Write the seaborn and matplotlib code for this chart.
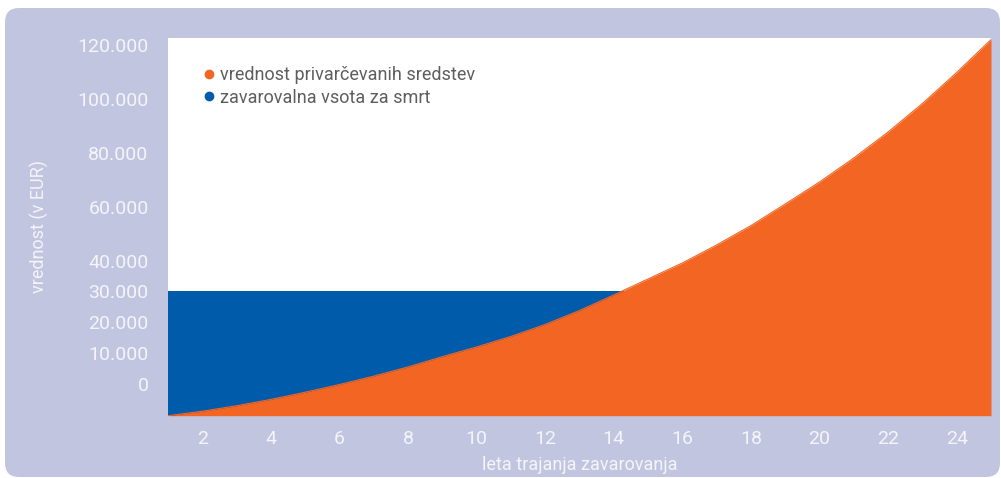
import numpy as np
import matplotlib
matplotlib.use("Agg")
import matplotlib.pyplot as plt
import seaborn as sns
from matplotlib.patches import FancyBboxPatch
from matplotlib.lines import Line2D
from matplotlib.transforms import IdentityTransform

# --- podatki (odčitani s slike) ---
leta = list(range(1, 26))
vrednost_sredstev = [-10300, -8850, -7070, -5020, -2690, -190, 2530, 5510, 8850, 11990,
                     15400, 19290, 23820, 28850, 34040, 39220, 45790, 52990, 61000, 69170,
                     78070, 87720, 98290, 109800, 122000]
vsota_za_smrt = [30000] * len(leta)

y_ticks = [0, 10000, 20000, 30000, 40000, 60000, 80000, 100000, 120000]
y_tick_labels = ["0", "10.000", "20.000", "30.000", "40.000", "60.000", "80.000", "100.000", "120.000"]
x_ticks = list(range(2, 25, 2))

ORANGE = "#F26522"
BLUE = "#005BAA"
LAVENDER = "#C2C5E0"
TICK_COL = "#F4F4FA"
LEGEND_COL = "#5E5E5E"

# os y ni linearna: do 40.000 je korak večji kot nad 40.000
knot_v = np.array([-20000, 0, 40000, 140000])
knot_p = np.array([-2.0, 0.0, 4.0, 4.0 + 10 * 26.95 / 30.85])


def fwd(v):
    return np.interp(v, knot_v, knot_p)


def inv(p):
    return np.interp(p, knot_p, knot_v)


sns.set_style("white")
plt.rcParams['font.family'] = ['Roboto', 'DejaVu Sans']

fig = plt.figure(figsize=(10.01, 4.78), dpi=100, facecolor="white")

# ozadje z zaobljenimi robovi
bg = FancyBboxPatch((5, 1), 995, 469, boxstyle="round,pad=0,rounding_size=14",
                    facecolor=LAVENDER, edgecolor="none", transform=IdentityTransform(),
                    zorder=-10)
fig.patches.append(bg)

ax = fig.add_axes([168 / 1001, 62.3 / 478, 823 / 1001, 377.7 / 478])
ax.set_facecolor("white")
ax.set_yscale("function", functions=(fwd, inv))

y_bottom = vrednost_sredstev[0]
ax.fill_between(leta, y_bottom, vsota_za_smrt, color=BLUE, linewidth=0, zorder=1)
ax.fill_between(leta, y_bottom, vrednost_sredstev, color=ORANGE, linewidth=0, zorder=2)
sns.lineplot(x=leta, y=vrednost_sredstev, ax=ax, color=ORANGE, linewidth=0.8, zorder=3)

ax.set_xlim(1, 25)
ax.set_ylim(y_bottom, 122600)

ax.set_yticks(y_ticks)
ax.set_yticklabels(y_tick_labels)
ax.set_xticks(x_ticks)
ax.set_xticklabels([str(t) for t in x_ticks])
ax.tick_params(axis="both", length=0, colors=TICK_COL, labelsize=14)
ax.tick_params(axis="y", pad=14)
ax.tick_params(axis="x", pad=10)

for s in ax.spines.values():
    s.set_visible(False)

ax.set_xlabel("leta trajanja zavarovanja", color=TICK_COL, fontsize=13)
ax.set_ylabel("vrednost (v EUR)", color=TICK_COL, fontsize=13)
ax.xaxis.set_label_coords(0.5, -0.108)
ax.yaxis.set_label_coords(-0.145, 0.5)

handles = [
    Line2D([], [], marker="o", linestyle="none", markersize=6, color=ORANGE),
    Line2D([], [], marker="o", linestyle="none", markersize=6, color=BLUE),
]
leg = ax.legend(handles, ["vrednost privarčevanih sredstev", "zavarovalna vsota za smrt"],
                loc="upper left", bbox_to_anchor=(0.035, 0.945), frameon=False,
                handlelength=0.6, handletextpad=0.3, labelspacing=0.25, borderaxespad=0,
                prop={"size": 13})
for t in leg.get_texts():
    t.set_color(LEGEND_COL)

fig.savefig("out.png", dpi=100, facecolor="white")
